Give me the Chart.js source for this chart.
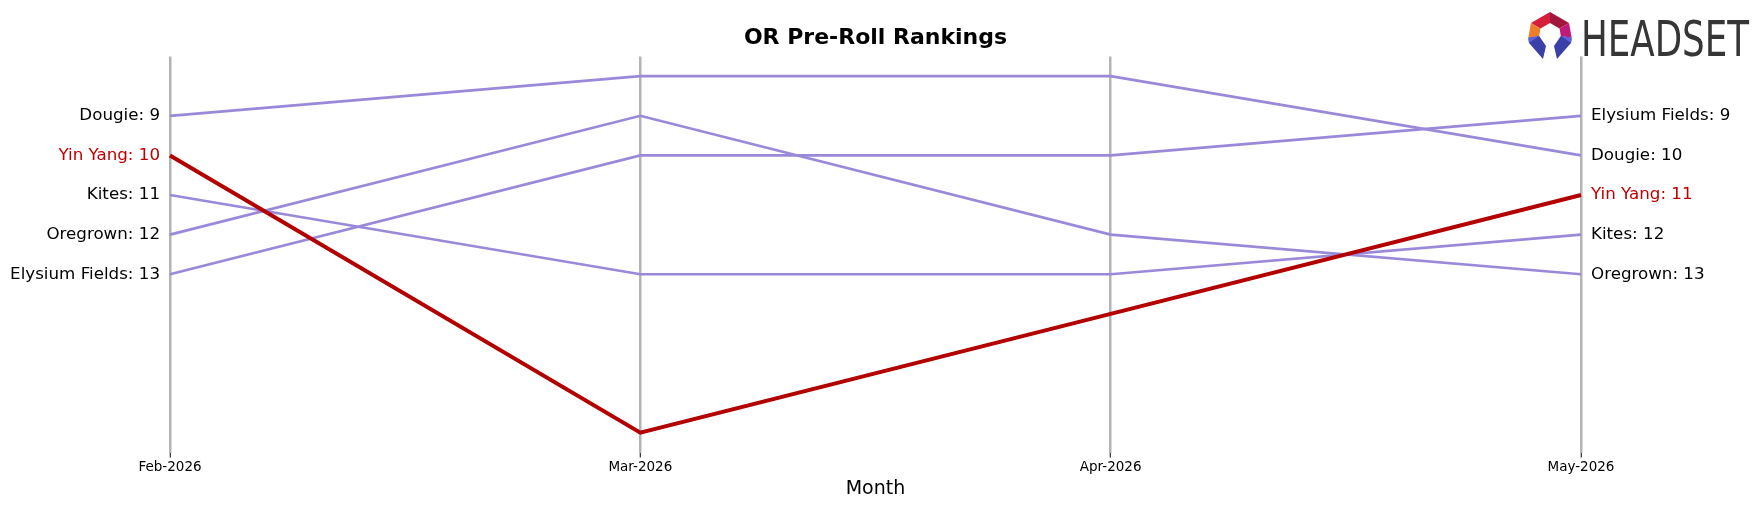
<!DOCTYPE html>
<html>
<head>
<meta charset="utf-8">
<script src="https://cdn.jsdelivr.net/npm/chart.js@4.4.1/dist/chart.umd.min.js"></script>
<style>
html,body{margin:0;padding:0;background:#fff;}
#wrap{width:1764px;height:507px;position:relative;}
</style>
</head>
<body>
<div id="wrap"><canvas id="c" width="1764" height="507"></canvas></div>
<script>
const months = ["Feb-2026", "Mar-2026", "Apr-2026", "May-2026"];
const brands = ["Dougie", "Yin Yang", "Kites", "Oregrown", "Elysium Fields"];
const dougie = [9, 8, 8, 10];
const yinYang = [10, 17, 14, 11];
const kites = [11, 13, 13, 12];
const oregrown = [12, 9, 12, 13];
const elysiumFields = [13, 10, 10, 9];
const highlight = "Yin Yang";

const seriesValues = [dougie, yinYang, kites, oregrown, elysiumFields];
const PURPLE = "#9a89d8";
const RED = "#b30000";
const RED_TEXT = "#c00000";
const FONT = "'DejaVu Sans', sans-serif";

const datasets = brands.map((b, i) => ({
  label: b,
  data: seriesValues[i],
  borderColor: b === highlight ? RED : PURPLE,
  borderWidth: b === highlight ? 4 : 2.7,
  pointRadius: 0,
  tension: 0,
  fill: false,
  order: b === highlight ? 0 : 1
}));

const endLabels = {
  id: "endLabels",
  afterDatasetsDraw(chart) {
    const ctx = chart.ctx;
    ctx.save();
    ctx.font = "16.7px " + FONT;
    ctx.textBaseline = "middle";
    chart.data.datasets.forEach((ds, i) => {
      const meta = chart.getDatasetMeta(i);
      const first = meta.data[0], last = meta.data[meta.data.length - 1];
      ctx.fillStyle = ds.label === highlight ? RED_TEXT : "#000";
      ctx.textAlign = "right";
      ctx.fillText(ds.label + ": " + ds.data[0], first.x - 10, first.y);
      ctx.textAlign = "left";
      ctx.fillText(ds.label + ": " + ds.data[ds.data.length - 1], last.x + 10, last.y);
    });
    ctx.restore();
  }
};

const logo = {
  id: "logo",
  afterDraw(chart) {
    const ctx = chart.ctx;
    ctx.save();
    const cx = 1550, cy = 34, R = 22, r = 11;
    const pt = (deg, rad) => {
      const a = (deg - 90) * Math.PI / 180;
      return [cx + rad * Math.cos(a), cy + rad * Math.sin(a)];
    };
    const seg = (a1, a2, color) => {
      const p = [pt(a1, R), pt(a2, R), pt(a2, r), pt(a1, r)];
      ctx.beginPath();
      ctx.moveTo(p[0][0], p[0][1]);
      for (let k = 1; k < p.length; k++) ctx.lineTo(p[k][0], p[k][1]);
      ctx.closePath();
      ctx.fillStyle = color;
      ctx.fill();
    };
    seg(-60, 0, "#d61f3a");
    seg(0, 60, "#a3163c");
    seg(60, 100, "#c21a7a");
    seg(-100, -60, "#f07d2c");
    let a, b;
    ctx.beginPath();
    a = pt(100, R); b = pt(100, r);
    ctx.moveTo(a[0], a[1]); ctx.lineTo(b[0], b[1]); ctx.lineTo(cx + 4, cy + 12); ctx.lineTo(cx + 7, cy + 25); ctx.lineTo(cx + 21, cy + 9);
    ctx.closePath(); ctx.fillStyle = "#3b3fa8"; ctx.fill();
    ctx.beginPath();
    a = pt(-100, R); b = pt(-100, r);
    ctx.moveTo(a[0], a[1]); ctx.lineTo(b[0], b[1]); ctx.lineTo(cx - 4, cy + 12); ctx.lineTo(cx - 7, cy + 25); ctx.lineTo(cx - 21, cy + 9);
    ctx.closePath(); ctx.fillStyle = "#3b3fa8"; ctx.fill();
    ctx.beginPath();
    a = pt(100, R); b = pt(100, r);
    ctx.moveTo(a[0], a[1]); ctx.lineTo(b[0], b[1]); ctx.lineTo(cx + 21, cy + 9); ctx.closePath();
    ctx.fillStyle = "#5f62d6"; ctx.fill();
    ctx.beginPath();
    a = pt(-100, R); b = pt(-100, r);
    ctx.moveTo(a[0], a[1]); ctx.lineTo(b[0], b[1]); ctx.lineTo(cx - 21, cy + 9); ctx.closePath();
    ctx.fillStyle = "#5f62d6"; ctx.fill();
    ctx.font = "49px 'DejaVu Sans Condensed', " + FONT;
    ctx.fillStyle = "#363636";
    ctx.textBaseline = "alphabetic";
    ctx.textAlign = "left";
    const w = ctx.measureText("HEADSET").width;
    ctx.translate(1581, 56);
    ctx.scale(168 / w, 1);
    ctx.fillText("HEADSET", 0, 0);
    ctx.restore();
  }
};

new Chart(document.getElementById("c"), {
  type: "line",
  data: { labels: months, datasets },
  options: {
    responsive: false,
    animation: false,
    devicePixelRatio: 1,
    layout: { padding: { left: 170, right: 183, top: 0, bottom: 0 } },
    plugins: {
      legend: { display: false },
      tooltip: { enabled: false },
      title: {
        display: true,
        text: "OR Pre-Roll Rankings",
        color: "#000",
        font: { family: FONT, size: 22, weight: "bold" },
        padding: { top: 25, bottom: 5 }
      }
    },
    scales: {
      x: {
        type: "category",
        offset: false,
        border: { display: false },
        grid: { display: true, drawOnChartArea: true, color: "#b4b4b4", lineWidth: 2.5, tickColor: "#000", tickWidth: 1, tickLength: 5 },
        ticks: { color: "#000", font: { family: FONT, size: 13.5 }, padding: 2, maxRotation: 0 },
        title: { display: true, text: "Month", color: "#000", font: { family: FONT, size: 19 }, padding: { top: 0, bottom: 6.5 } }
      },
      y: {
        display: false,
        reverse: true,
        min: 7.5,
        max: 17.5
      }
    }
  },
  plugins: [endLabels, logo]
});
</script>
</body>
</html>
